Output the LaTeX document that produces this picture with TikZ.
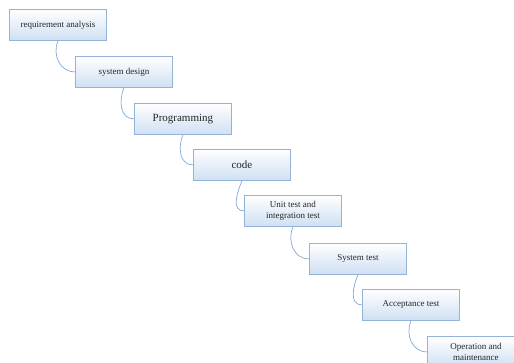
\documentclass[tikz,border=0pt]{standalone}
\usepackage{fontspec}
\setmainfont{Liberation Serif}
\definecolor{boxline}{HTML}{95B3D7}
\definecolor{boxbot}{HTML}{CFE0F3}
\definecolor{conncol}{HTML}{7FA8D8}
\tikzset{
  stagebox/.style={draw=boxline, line width=0.8pt, top color=white, bottom color=boxbot,
    minimum width=97pt, minimum height=31pt, inner sep=1pt, anchor=north west,
    align=center, font=\fontsize{9}{10.5}\selectfont, text=black!85},
  bigbox/.style={stagebox, font=\fontsize{11}{13}\selectfont},
  conn/.style={draw=conncol, line width=0.7pt}
}
\begin{document}
\begin{tikzpicture}[x=1pt,y=-1pt]
\useasboundingbox (0,0) rectangle (514,362);
\node[stagebox] (n1) at (9,9) {requirement analysis};
\node[stagebox] (n2) at (75,56) {system design};
\node[bigbox] (n3) at (134,103) {Programming};
\node[bigbox] (n4) at (193,149) {code};
\node[stagebox] (n5) at (244,195) {Unit test and\\integration test};
\node[stagebox] (n6) at (309,243) {System test};
\node[stagebox] (n7) at (362,289) {Acceptance test};
\node[stagebox] (n8) at (427,336) {Operation and\\maintenance};
\foreach \a/\b in {n1/n2,n2/n3,n3/n4,n4/n5,n5/n6,n6/n7,n7/n8}
  \draw[conn] (\a.south) to[out=-112,in=180,looseness=1.1] (\b.west);
\end{tikzpicture}
\end{document}
